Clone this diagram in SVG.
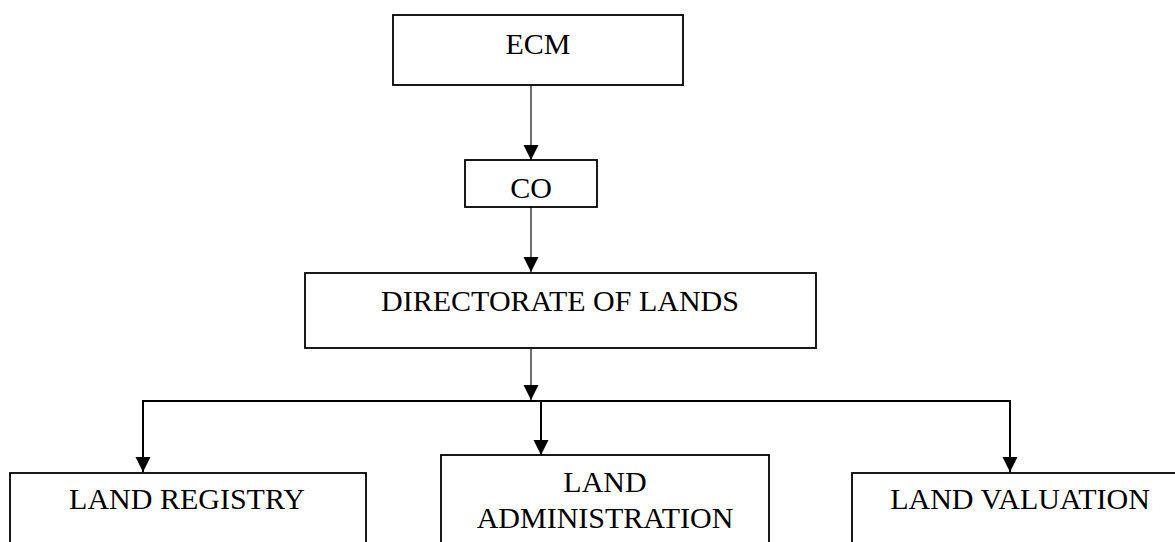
<svg xmlns="http://www.w3.org/2000/svg" width="1175" height="542" viewBox="0 0 1175 542">
<defs>
<style>
.box{fill:#fff;stroke:#000;stroke-width:1.8}
.lbl{font-family:"Liberation Serif","Times New Roman",serif;font-size:30px;fill:#000;text-anchor:middle}
.thin{fill:none;stroke:#333;stroke-width:1.4}
.thick{fill:none;stroke:#000;stroke-width:2}
</style>
<marker id="ah" markerUnits="userSpaceOnUse" markerWidth="16" markerHeight="16" viewBox="0 0 16 16" refX="15" refY="8" orient="auto">
<path d="M0,0.5 L15,8 L0,15.5 Z" fill="#000"/>
</marker>
</defs>
<rect width="1175" height="542" fill="#fff"/>
<g id="connectors">
<line class="thin" x1="531" y1="85" x2="531" y2="160" marker-end="url(#ah)"/>
<line class="thin" x1="531" y1="207" x2="531" y2="272" marker-end="url(#ah)"/>
<line class="thin" x1="531" y1="348" x2="531" y2="400" marker-end="url(#ah)"/>
<polyline class="thick" points="143,401 1010,401 1010,472" marker-end="url(#ah)"/>
<line class="thick" x1="143" y1="400" x2="143" y2="472" marker-end="url(#ah)"/>
<line class="thick" x1="541" y1="401" x2="541" y2="455" marker-end="url(#ah)"/>
</g>
<g id="ecm">
<rect class="box" x="393" y="15" width="290" height="70"/>
<text class="lbl" x="538" y="54">ECM</text>
</g>
<g id="co">
<rect class="box" x="465" y="160" width="132" height="47"/>
<text class="lbl" x="531" y="198">CO</text>
</g>
<g id="directorate">
<rect class="box" x="305" y="273" width="511" height="75"/>
<text class="lbl" x="560" y="311">DIRECTORATE OF LANDS</text>
</g>
<g id="land-registry">
<rect class="box" x="10" y="473" width="356" height="100"/>
<text class="lbl" x="187" y="509">LAND REGISTRY</text>
</g>
<g id="land-administration">
<rect class="box" x="441" y="455" width="328" height="110"/>
<text class="lbl" x="605" y="492">LAND</text>
<text class="lbl" x="605" y="528">ADMINISTRATION</text>
</g>
<g id="land-valuation">
<rect class="box" x="852" y="473" width="340" height="100"/>
<text class="lbl" x="1020" y="509">LAND VALUATION</text>
</g>
</svg>
